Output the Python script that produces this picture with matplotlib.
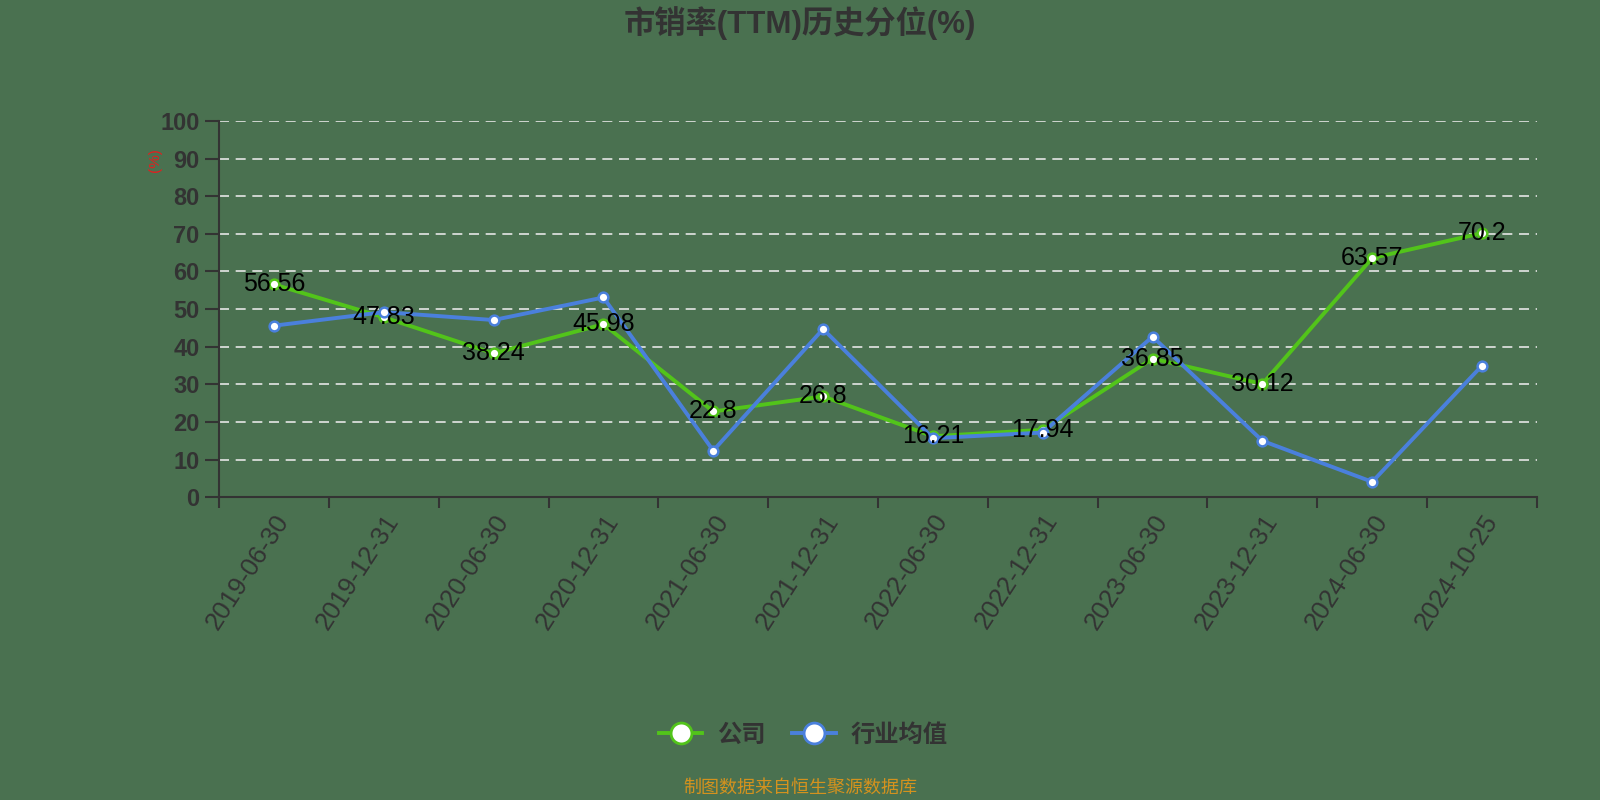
import matplotlib
matplotlib.use("Agg")
import matplotlib.pyplot as plt
from matplotlib.lines import Line2D

plt.rcParams['font.family'] = ['Liberation Sans', 'Noto Sans CJK SC', 'DejaVu Sans']

dates = ["2019-06-30", "2019-12-31", "2020-06-30", "2020-12-31", "2021-06-30", "2021-12-31",
         "2022-06-30", "2022-12-31", "2023-06-30", "2023-12-31", "2024-06-30", "2024-10-25"]
company = [56.56, 47.83, 38.24, 45.98, 22.8, 26.8, 16.21, 17.94, 36.85, 30.12, 63.57, 70.2]
industry = [45.6, 49.2, 47.1, 53.1, 12.4, 44.7, 15.7, 17.2, 42.7, 15.0, 4.1, 35.0]
yticks = [0, 10, 20, 30, 40, 50, 60, 70, 80, 90, 100]

title = "市销率(TTM)历史分位(%)"
legend_names = ["公司", "行业均值"]
footer = "制图数据来自恒生聚源数据库"

bg = "#4a7150"
green = "#52c41a"
blue = "#4a80dc"
axc = "#333333"

fig = plt.figure(figsize=(16, 8), dpi=100, facecolor=bg)
ax = fig.add_axes([0.1369, 0.3784, 0.8237, 0.4704], facecolor=bg)

x = list(range(len(dates)))
ax.plot(x, company, color=green, lw=2.8, marker='o', ms=7, mfc='white', mec=green, mew=1.8, zorder=3)
ax.plot(x, industry, color=blue, lw=2.8, marker='o', ms=7, mfc='white', mec=blue, mew=1.8, zorder=4)

for xi, v in zip(x, company):
    ax.text(xi, v, f"{v:g}", ha='center', va='center', fontsize=18, color='black', zorder=6)

ax.set_xlim(-0.5, len(dates) - 0.5)
ax.set_ylim(0, 100)
ax.set_yticks(yticks)
ax.set_yticklabels([str(t) for t in yticks], fontsize=17, color=axc, fontweight='bold')
ax.set_xticks(x)
ax.set_xticklabels(dates, rotation=57, ha='right', va='top', rotation_mode='anchor',
                   fontsize=18.5, color=axc)
ax.set_xticks([i - 0.5 for i in range(len(dates) + 1)], minor=True)
ax.tick_params(axis='x', which='major', length=0, pad=9)
ax.tick_params(axis='x', which='minor', length=8, width=1.5, color=axc)
ax.tick_params(axis='y', length=10, width=1.5, color=axc, pad=4)

for s in ['top', 'right']:
    ax.spines[s].set_visible(False)
for s in ['left', 'bottom']:
    ax.spines[s].set_color(axc)
    ax.spines[s].set_linewidth(1.5)

ax.grid(axis='y', color='#e6e6e6', linestyle=(0, (6, 4)), linewidth=1.2)
ax.set_axisbelow(True)

fig.text(0.0969, 0.80, "(%)", rotation=90, color='#e02020', fontsize=11, ha='center', va='center')
fig.text(0.5, 0.971, title, ha='center', va='center', fontsize=22.5, fontweight='bold', color=axc)

handles = [Line2D([0], [0], color=green, lw=2.8, marker='o', ms=15, mfc='white', mec=green, mew=2),
           Line2D([0], [0], color=blue, lw=2.8, marker='o', ms=15, mfc='white', mec=blue, mew=2)]
leg = fig.legend(handles, legend_names, loc='center', bbox_to_anchor=(0.502, 0.081), ncol=2,
                 frameon=False, fontsize=17.5, handlelength=1.8, columnspacing=1.1, handletextpad=0.6)
for t in leg.get_texts():
    t.set_color(axc)
    t.set_fontweight('bold')

fig.text(0.5, 0.015, footer, ha='center', va='center', fontsize=13, color='#d4921e')

fig.savefig("out.png", dpi=100, facecolor=bg)
